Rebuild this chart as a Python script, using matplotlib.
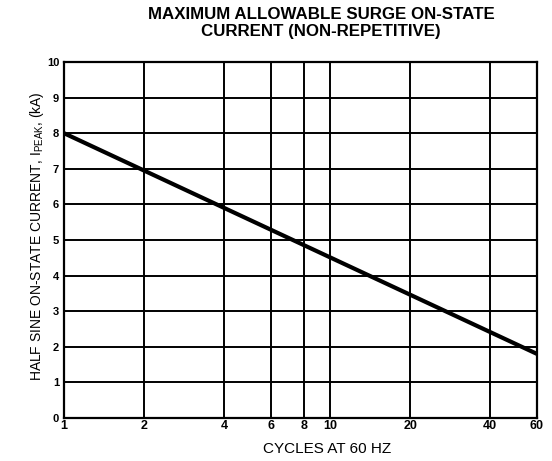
import matplotlib
matplotlib.use('Agg')
import matplotlib.pyplot as plt
from matplotlib.ticker import FixedLocator, FixedFormatter, NullLocator

plt.rcParams['font.family'] = ['Liberation Sans', 'DejaVu Sans']

# surge curve: straight line on semi-log paper
cycles = [1, 60]
current_ka = [8.0, 1.8]

x_ticks = [1, 2, 4, 6, 8, 10, 20, 40, 60]
x_tick_labels = ['1', '2', '4', '6', '8', '10', '20', '40', '60']
y_ticks = list(range(0, 11))
y_tick_labels = [str(v) for v in y_ticks]

W, H = 552, 461
fig = plt.figure(figsize=(W / 100, H / 100), dpi=100)
# axes box in pixels: x 64..537, y 62..418
ax = fig.add_axes([64 / W, 1 - 418 / H, (537 - 64) / W, (418 - 62) / H])

ax.set_xscale('log')
ax.set_xlim(1, 60)
ax.set_ylim(0, 10)

ax.xaxis.set_major_locator(FixedLocator(x_ticks))
ax.xaxis.set_major_formatter(FixedFormatter(x_tick_labels))
ax.xaxis.set_minor_locator(NullLocator())
ax.set_yticks(y_ticks)
ax.set_yticklabels(y_tick_labels)

ax.grid(True, color='black', linewidth=1.4)
for s in ax.spines.values():
    s.set_linewidth(1.6)
ax.tick_params(axis='x', length=0, labelsize=9, pad=1.5)
ax.tick_params(axis='y', length=0, labelsize=8, pad=3.5)
for lbl in ax.get_xticklabels() + ax.get_yticklabels():
    lbl.set_fontweight('bold')

ax.plot(cycles, current_ka, color='black', linewidth=3, solid_capstyle='butt', clip_on=False)

fig.text(321 / W, 1 - 14.5 / H, 'MAXIMUM ALLOWABLE SURGE ON-STATE',
         ha='center', va='center', fontsize=12.2, fontweight='bold')
fig.text(321 / W, 1 - 31.5 / H, 'CURRENT (NON-REPETITIVE)',
         ha='center', va='center', fontsize=12.2, fontweight='bold')
fig.text(327 / W, 1 - 449 / H, 'CYCLES AT 60 HZ', ha='center', va='center', fontsize=11)
fig.text(37 / W, 1 - 236 / H, r'HALF SINE ON-STATE CURRENT, I$_{\mathregular{PEAK}}$, (kA)',
         ha='center', va='center', rotation=90, fontsize=10)

fig.savefig('out.png', dpi=100)
